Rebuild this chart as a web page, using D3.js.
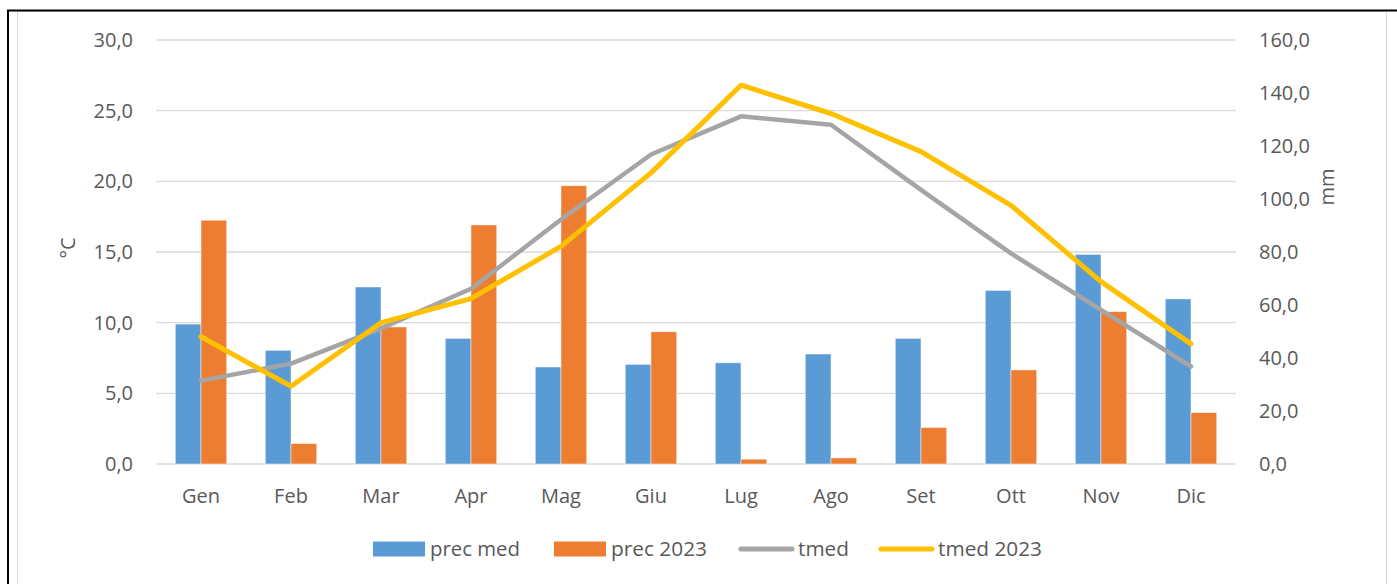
<!DOCTYPE html>
<html>
<head>
<meta charset="utf-8">
<script src="https://cdn.jsdelivr.net/npm/d3@7"></script>
<style>
  body { margin: 0; background: #fff; }
  text { fill: #595959; }
</style>
</head>
<body>
<script>
// Climogram: monthly precipitation (bars, right axis) and mean temperature (lines, left axis)

let months = ["Gen", "Feb", "Mar", "Apr", "Mag", "Giu", "Lug", "Ago", "Set", "Ott", "Nov", "Dic"];
let precMed = [52.8, 42.9, 66.8, 47.4, 36.6, 37.6, 38.2, 41.5, 47.4, 65.5, 79.1, 62.3];
let prec2023 = [92.0, 7.7, 51.7, 90.2, 105.0, 49.9, 1.8, 2.3, 13.8, 35.5, 57.5, 19.4];
let tmed = [5.9, 7.1, 9.6, 12.4, 17.3, 21.9, 24.6, 24.0, 19.4, 14.9, 10.9, 6.9];
let tmed2023 = [9.0, 5.5, 10.0, 11.7, 15.4, 20.6, 26.8, 24.8, 22.1, 18.3, 12.9, 8.5];
let leftTicks = [0, 5, 10, 15, 20, 25, 30];
let rightTicks = [0, 20, 40, 60, 80, 100, 120, 140, 160];

let svgWidth = 1397;
let svgHeight = 584;

let margin = { top: 40, right: 161, bottom: 120, left: 156 };
let width = svgWidth - margin.left - margin.right;
let height = svgHeight - margin.top - margin.bottom;

let labelFont = "'Open Sans', 'DejaVu Sans', sans-serif";

let itLocale = d3.formatLocale({ decimal: ",", thousands: ".", grouping: [3], currency: ["", "€"] });
let fmt = itLocale.format(".1f");

let svg = d3.select("body")
            .append("svg")
            .attr("width", svgWidth)
            .attr("height", svgHeight);

// Frame: black outer border and light grey chart area border
svg.append("rect")
   .attr("x", 17.5)
   .attr("y", 11.5)
   .attr("width", 1369)
   .attr("height", 600)
   .attr("fill", "none")
   .attr("stroke", "#d9d9d9")
   .attr("stroke-width", 1);

svg.append("path")
   .attr("d", "M8,600 V10.5 H1397")
   .attr("fill", "none")
   .attr("stroke", "#000")
   .attr("stroke-width", 2);

let chartGroup = svg.append("g")
                    .attr("transform", `translate(${margin.left}, ${margin.top})`);

// Scales
let x0 = d3.scaleBand()
           .domain(months)
           .range([0, width]);

let x1 = d3.scaleBand()
           .domain(["med", "2023"])
           .range([0, x0.bandwidth()])
           .paddingOuter(0.75);

let yLeft = d3.scaleLinear()
              .domain([0, 30])
              .range([height, 0]);

let yRight = d3.scaleLinear()
               .domain([0, 160])
               .range([height, 0]);

// Gridlines (follow the left axis)
chartGroup.append("g")
          .selectAll("line")
          .data(leftTicks)
          .enter()
          .append("line")
          .attr("x1", 0)
          .attr("x2", width)
          .attr("y1", d => yLeft(d))
          .attr("y2", d => yLeft(d))
          .attr("stroke", "#d9d9d9")
          .attr("stroke-width", 1.3);

// Axes
let leftAxis = d3.axisLeft(yLeft).tickValues(leftTicks).tickFormat(fmt).tickSize(0).tickPadding(23);
let rightAxis = d3.axisRight(yRight).tickValues(rightTicks).tickFormat(fmt).tickSize(0).tickPadding(23);
let bottomAxis = d3.axisBottom(x0).tickSize(0).tickPadding(25);

let leftG = chartGroup.append("g").call(leftAxis);
let rightG = chartGroup.append("g").attr("transform", `translate(${width}, 0)`).call(rightAxis);
let bottomG = chartGroup.append("g").attr("transform", `translate(0, ${height})`).call(bottomAxis);

[leftG, rightG, bottomG].forEach(g => {
    g.select(".domain").remove();
    g.selectAll("text")
     .attr("fill", "#595959")
     .style("font-family", labelFont)
     .style("font-size", "20px");
});

// Axis titles
chartGroup.append("text")
          .attr("transform", `translate(${68 - margin.left}, ${height / 2 - 4}) rotate(-90)`)
          .attr("text-anchor", "middle")
          .attr("dy", "0.35em")
          .style("font-family", labelFont)
          .style("font-size", "20px")
          .text("°C");

chartGroup.append("text")
          .attr("transform", `translate(${1327 - margin.left}, ${187 - margin.top}) rotate(-90)`)
          .attr("text-anchor", "middle")
          .attr("dy", "0.35em")
          .style("font-family", labelFont)
          .style("font-size", "20px")
          .text("mm");

// Bars
let barsGroup = chartGroup.append("g");

barsGroup.selectAll(".bar-med")
         .data(months)
         .enter()
         .append("rect")
         .attr("x", d => x0(d) + x1("med"))
         .attr("y", (d, i) => yRight(precMed[i]))
         .attr("width", x1.bandwidth())
         .attr("height", (d, i) => height - yRight(precMed[i]))
         .attr("fill", "#5b9bd5")
         .attr("stroke", "#fff")
         .attr("stroke-opacity", 0.6)
         .attr("stroke-width", 0.8);

barsGroup.selectAll(".bar-2023")
         .data(months)
         .enter()
         .append("rect")
         .attr("x", d => x0(d) + x1("2023"))
         .attr("y", (d, i) => yRight(prec2023[i]))
         .attr("width", x1.bandwidth())
         .attr("height", (d, i) => height - yRight(prec2023[i]))
         .attr("fill", "#ed7d31")
         .attr("stroke", "#fff")
         .attr("stroke-opacity", 0.6)
         .attr("stroke-width", 0.8);

// Lines
let line = d3.line()
             .x((d, i) => x0(months[i]) + x0.bandwidth() / 2)
             .y(d => yLeft(d));

chartGroup.append("path")
          .datum(tmed)
          .attr("d", line)
          .attr("fill", "none")
          .attr("stroke", "#a5a5a5")
          .attr("stroke-width", 4.5)
          .attr("stroke-linejoin", "round")
          .attr("stroke-linecap", "round");

chartGroup.append("path")
          .datum(tmed2023)
          .attr("d", line)
          .attr("fill", "none")
          .attr("stroke", "#ffc000")
          .attr("stroke-width", 5)
          .attr("stroke-linejoin", "round")
          .attr("stroke-linecap", "round");

// Legend
let legendY = 549;
let legend = svg.append("g");

let legendItems = [
    { label: "prec med", color: "#5b9bd5", type: "rect", x: 373, w: 90 },
    { label: "prec 2023", color: "#ed7d31", type: "rect", x: 554, w: 96 },
    { label: "tmed", color: "#a5a5a5", type: "line", x: 741, w: 51 },
    { label: "tmed 2023", color: "#ffc000", type: "line", x: 881, w: 104 }
];

legendItems.forEach(item => {
    if (item.type === "rect") {
        legend.append("rect")
              .attr("x", item.x)
              .attr("y", legendY - 7.5)
              .attr("width", 52)
              .attr("height", 15)
              .attr("fill", item.color);
    } else {
        legend.append("line")
              .attr("x1", item.x)
              .attr("x2", item.x + 51)
              .attr("y1", legendY)
              .attr("y2", legendY)
              .attr("stroke", item.color)
              .attr("stroke-width", 5)
              .attr("stroke-linecap", "round");
    }
    legend.append("text")
          .attr("x", item.x + 57)
          .attr("y", legendY)
          .attr("dy", "0.35em")
          .attr("textLength", item.w)
          .attr("lengthAdjust", "spacingAndGlyphs")
          .style("font-family", labelFont)
          .style("font-size", "20px")
          .text(item.label);
});
</script>
</body>
</html>
